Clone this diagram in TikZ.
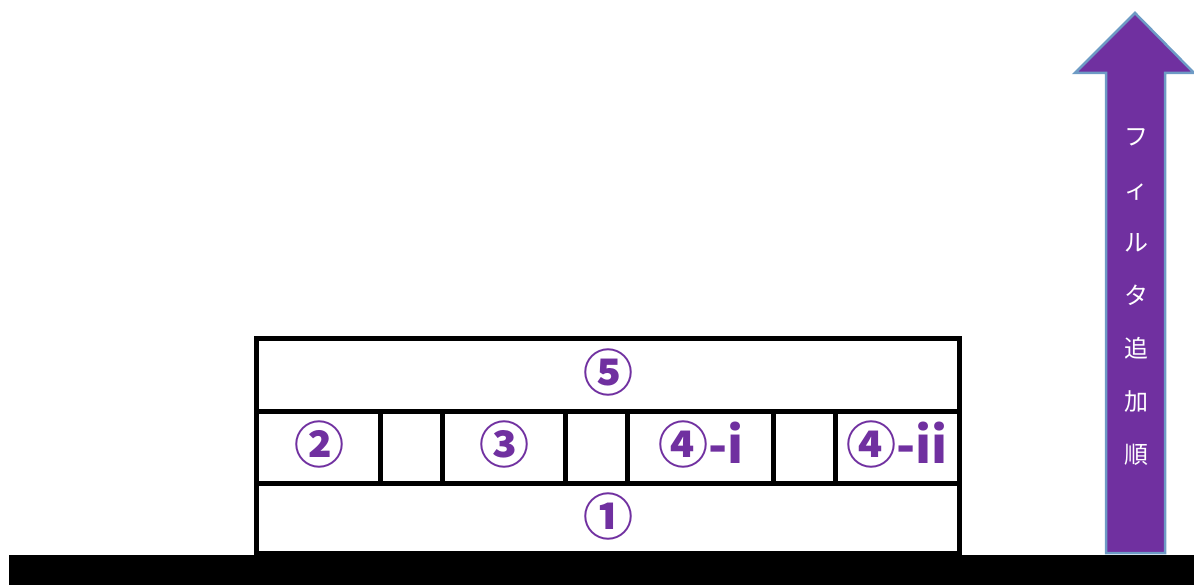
\documentclass[tikz,border=0pt]{standalone}
\usepackage{fontspec}
\usepackage{xcolor}
\usepackage{tikz}
\usetikzlibrary{calc}
\newfontfamily\cjk{Noto Sans CJK JP}
\definecolor{filtpurple}{HTML}{7030A0}
\definecolor{arrowedge}{HTML}{6E9BC5}

\begin{document}
\begin{tikzpicture}[x=1pt,y=-1pt,
    cell/.style={line width=5pt},
    num/.style={text=filtpurple,font=\cjk\bfseries\fontsize{50}{50}\selectfont,inner sep=0pt}]
\useasboundingbox (0,0) rectangle (1194,585);
% ground
\fill (9,555) rectangle (1194,585);
% filter stack
\draw[cell] (256,338) rectangle (959,553);
\draw[cell] (256,411) -- (959,411);
\draw[cell] (256,483) -- (959,483);
\foreach \x in {380,442,565,627,773,835}
    \draw[cell] (\x,411) -- (\x,483);
\node[num] (f5) at (608,372) {⑤};
\node[num] (f2) at (319,444) {②};
\node[num] (f3) at (504,444) {③};
\node[num] (f4a) at (701,444) {④-i};
\node[num] (f4b) at (897,444) {④-ii};
\node[num] (f1) at (608,516) {①};
% order arrow
\draw[fill=filtpurple,draw=arrowedge,line width=2.5pt,line join=miter]
    (1106,553) -- (1106,73) -- (1075,73) -- (1135,13) -- (1194,73)
    -- (1165,73) -- (1165,553) -- cycle;
\node[text=white,font=\cjk\fontsize{24}{53}\selectfont,align=center,inner sep=0pt] (order) at (1136,297)
    {フ\\ィ\\ル\\タ\\追\\加\\順};
\end{tikzpicture}
\end{document}
